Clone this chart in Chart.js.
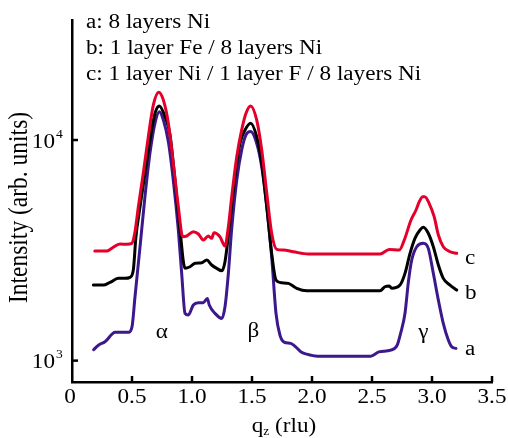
<!DOCTYPE html>
<html>
<head>
<meta charset="utf-8">
<script src="https://cdn.jsdelivr.net/npm/chart.js@4/dist/chart.umd.min.js"></script>
<style>
  html, body { margin: 0; padding: 0; background: #fff; }
  #wrap { width: 508px; height: 438px; }
</style>
</head>
<body>
<div id="wrap"><canvas id="myChart" width="508" height="438"></canvas></div>
<script>
// curve a: 8 layers Ni
var aX = [0.18, 0.22, 0.275, 0.36, 0.47, 0.50, 0.525, 0.567, 0.608, 0.65, 0.692, 0.728, 0.761, 0.803, 0.844, 0.886, 0.914, 0.942, 0.969, 1.011, 1.053, 1.094, 1.128, 1.144, 1.192, 1.248, 1.275, 1.303, 1.33, 1.373, 1.414, 1.45, 1.489, 1.539, 1.581, 1.623, 1.664, 1.70, 1.733, 1.767, 1.823, 1.864, 1.906, 1.956, 2.044, 2.489, 2.558, 2.656, 2.71, 2.739, 2.775, 2.803, 2.831, 2.873, 2.928, 2.969, 3.011, 3.053, 3.094, 3.136, 3.164, 3.20];
var aY = [1120, 1175, 1217, 1343, 1343, 1423, 1948, 3284, 5537, 8741, 11960, 13450, 12340, 9830, 6590, 3910, 2487, 1637, 1608, 1786, 1829, 1829, 1915, 1786, 1637, 1554, 1754, 2487, 3910, 6590, 9020, 10550, 10920, 9670, 7570, 4990, 2958, 1637, 1305, 1213, 1197, 1155, 1096, 1070, 1048, 1048, 1096, 1116, 1175, 1333, 1640, 2270, 2858, 3284, 3402, 3228, 2487, 1881, 1475, 1239, 1155, 1136];

// curve b: 1 layer Fe / 8 layers Ni
var bX = [0.178, 0.261, 0.317, 0.386, 0.442, 0.483, 0.511, 0.533, 0.567, 0.608, 0.65, 0.692, 0.728, 0.775, 0.817, 0.858, 0.90, 0.942, 0.983, 1.025, 1.081, 1.123, 1.164, 1.206, 1.248, 1.275, 1.317, 1.358, 1.40, 1.442, 1.489, 1.539, 1.581, 1.623, 1.664, 1.70, 1.748, 1.803, 1.873, 1.956, 2.567, 2.608, 2.644, 2.664, 2.733, 2.775, 2.817, 2.858, 2.90, 2.928, 2.969, 3.011, 3.053, 3.094, 3.15, 3.206];
var bY = [2200, 2200, 2263, 2360, 2360, 2385, 2574, 3645, 4987, 7070, 10010, 13230, 14280, 12770, 10550, 6590, 3910, 2620, 2664, 2761, 2778, 2858, 2713, 2620, 2555, 2808, 4340, 6820, 9670, 11110, 11920, 10360, 7850, 4990, 3065, 2319, 2254, 2240, 2126, 2073, 2075, 2162, 2178, 2126, 2200, 2487, 3065, 3584, 3910, 4022, 3777, 3284, 2713, 2360, 2200, 2089];

// curve c: 1 layer Ni / 1 layer F / 8 layers Ni
var cX = [0.19, 0.289, 0.331, 0.40, 0.456, 0.498, 0.525, 0.553, 0.594, 0.636, 0.678, 0.723, 0.761, 0.803, 0.844, 0.886, 0.923, 0.956, 1.011, 1.053, 1.094, 1.136, 1.164, 1.183, 1.233, 1.275, 1.303, 1.331, 1.373, 1.414, 1.45, 1.489, 1.539, 1.581, 1.623, 1.664, 1.706, 1.761, 1.844, 1.969, 2.567, 2.644, 2.728, 2.769, 2.825, 2.867, 2.894, 2.923, 2.94, 2.976, 3.018, 3.053, 3.094, 3.15, 3.206];
var cY = [3139, 3139, 3228, 3377, 3370, 3402, 3841, 4990, 7070, 10360, 14430, 16480, 15200, 11920, 7850, 4990, 3645, 3672, 3841, 3750, 3522, 3672, 3584, 3801, 3645, 3307, 4047, 5537, 8410, 11110, 13230, 14280, 12340, 9020, 5737, 3777, 3195, 3172, 3116, 3042, 3042, 3188, 3172, 3522, 4340, 4818, 5253, 5537, 5537, 5167, 4493, 3710, 3284, 3116, 3065];

var xTicks = [0, 0.5, 1.0, 1.5, 2.0, 2.5, 3.0, 3.5];
var xTickLabels = ["0", "0.5", "1.0", "1.5", "2.0", "2.5", "3.0", "3.5"];
var yTicks = [1000, 10000];
var yTickExp = ["3", "4"];
var legendLines = ["a: 8 layers Ni", "b: 1 layer Fe / 8 layers Ni", "c: 1 layer Ni / 1 layer F / 8 layers Ni"];
var peakNames = ["\u03b1", "\u03b2", "\u03b3"];
var curveNames = ["c", "b", "a"];

var FONT = "'Liberation Serif', 'Times New Roman', serif";
var STRETCH = 1.13;

function pts(xs, ys) {
  var out = [];
  for (var i = 0; i < xs.length; i++) out.push({ x: xs[i], y: ys[i] });
  return out;
}

function txt(ctx, s, x, y, size, align) {
  ctx.save();
  ctx.translate(x, y);
  ctx.scale(STRETCH, 1);
  ctx.font = size + "px " + FONT;
  ctx.textAlign = align || "left";
  ctx.textBaseline = "alphabetic";
  ctx.fillStyle = "#000";
  ctx.fillText(s, 0, 0);
  ctx.restore();
}

function textWidth(ctx, s, size) {
  ctx.save();
  ctx.font = size + "px " + FONT;
  var w = ctx.measureText(s).width * STRETCH;
  ctx.restore();
  return w;
}

var textPlugin = {
  id: "texts",
  afterDraw: function (chart) {
    var ctx = chart.ctx;
    var xs = chart.scales.x, ys = chart.scales.y;
    var area = chart.chartArea;

    ctx.save();
    ctx.strokeStyle = "#000";
    ctx.lineWidth = 2.5;
    // inward tick marks + labels
    for (var i = 0; i < xTicks.length; i++) {
      var px = xs.getPixelForValue(xTicks[i]);
      if (xTicks[i] > 0) {
        ctx.beginPath();
        ctx.moveTo(px, area.bottom);
        ctx.lineTo(px, area.bottom - 6);
        ctx.stroke();
      }
      txt(ctx, xTickLabels[i], px - (i === 0 ? 2 : 0), area.bottom + 21, 20.5, "center");
    }
    for (var j = 0; j < yTicks.length; j++) {
      var py = ys.getPixelForValue(yTicks[j]);
      ctx.beginPath();
      ctx.moveTo(area.left, py);
      ctx.lineTo(area.left + 6, py);
      ctx.stroke();
      txt(ctx, "10", 55, py + 7.6, 20.5, "right");
      txt(ctx, yTickExp[j], 56, py - 2.5, 12, "left");
    }
    ctx.restore();

    // legend text
    for (var k = 0; k < legendLines.length; k++) {
      txt(ctx, legendLines[k], 86, 28.3 + k * 26, 20.5, "left");
    }

    // peak names
    txt(ctx, peakNames[0], 161.7, 338, 20.5, "center");
    txt(ctx, peakNames[1], 253.3, 337, 20.5, "center");
    txt(ctx, peakNames[2], 423.3, 337.5, 20.5, "center");

    // curve names
    txt(ctx, curveNames[0], 465, 264, 20.5, "left");
    txt(ctx, curveNames[1], 465, 299, 20.5, "left");
    txt(ctx, curveNames[2], 465, 355, 20.5, "left");

    // x title: q_z (rlu)
    var w1 = textWidth(ctx, "q", 20.5);
    var w2 = textWidth(ctx, "z", 12);
    var w3 = textWidth(ctx, " (rlu)", 20.5);
    var x0 = 284 - (w1 + w2 + w3) / 2;
    txt(ctx, "q", x0, 432, 20.5, "left");
    txt(ctx, "z", x0 + w1, 435, 12, "left");
    txt(ctx, " (rlu)", x0 + w1 + w2, 432, 20.5, "left");

    // y title
    ctx.save();
    ctx.translate(26.6, 207.5);
    ctx.scale(STRETCH, 1);
    ctx.rotate(-Math.PI / 2);
    ctx.font = "23.5px " + FONT;
    ctx.textAlign = "center";
    ctx.textBaseline = "alphabetic";
    ctx.fillStyle = "#000";
    ctx.fillText("Intensity (arb. units)", 0, 0);
    ctx.restore();
  }
};

var ctx = document.getElementById("myChart").getContext("2d");
var chart = new Chart(ctx, {
  type: "line",
  data: {
    datasets: [
      { label: "c", data: pts(cX, cY), borderColor: "rgb(228, 0, 43)" },
      { label: "b", data: pts(bX, bY), borderColor: "rgb(0, 0, 0)" },
      { label: "a", data: pts(aX, aY), borderColor: "rgb(60, 24, 140)" }
    ]
  },
  options: {
    responsive: false,
    animation: false,
    layout: { padding: { top: 20, right: 16, left: 0, bottom: 0 } },
    plugins: { legend: { display: false }, tooltip: { enabled: false } },
    elements: {
      point: { radius: 0 },
      line: { borderWidth: 3, cubicInterpolationMode: "monotone", borderJoinStyle: "round", borderCapStyle: "round", fill: false }
    },
    scales: {
      x: {
        type: "linear",
        min: 0,
        max: 3.5,
        ticks: { display: false, stepSize: 0.5 },
        grid: { display: true, drawOnChartArea: false, drawTicks: false },
        border: { display: true, color: "#000", width: 2.5 },
        afterFit: function (s) { s.height = 56; }
      },
      y: {
        type: "logarithmic",
        min: 800,
        max: 35000,
        ticks: { display: false },
        grid: { display: true, drawOnChartArea: false, drawTicks: false },
        border: { display: true, color: "#000", width: 2.5 },
        afterFit: function (s) { s.width = 72; }
      }
    }
  },
  plugins: [textPlugin]
});
</script>
</body>
</html>
